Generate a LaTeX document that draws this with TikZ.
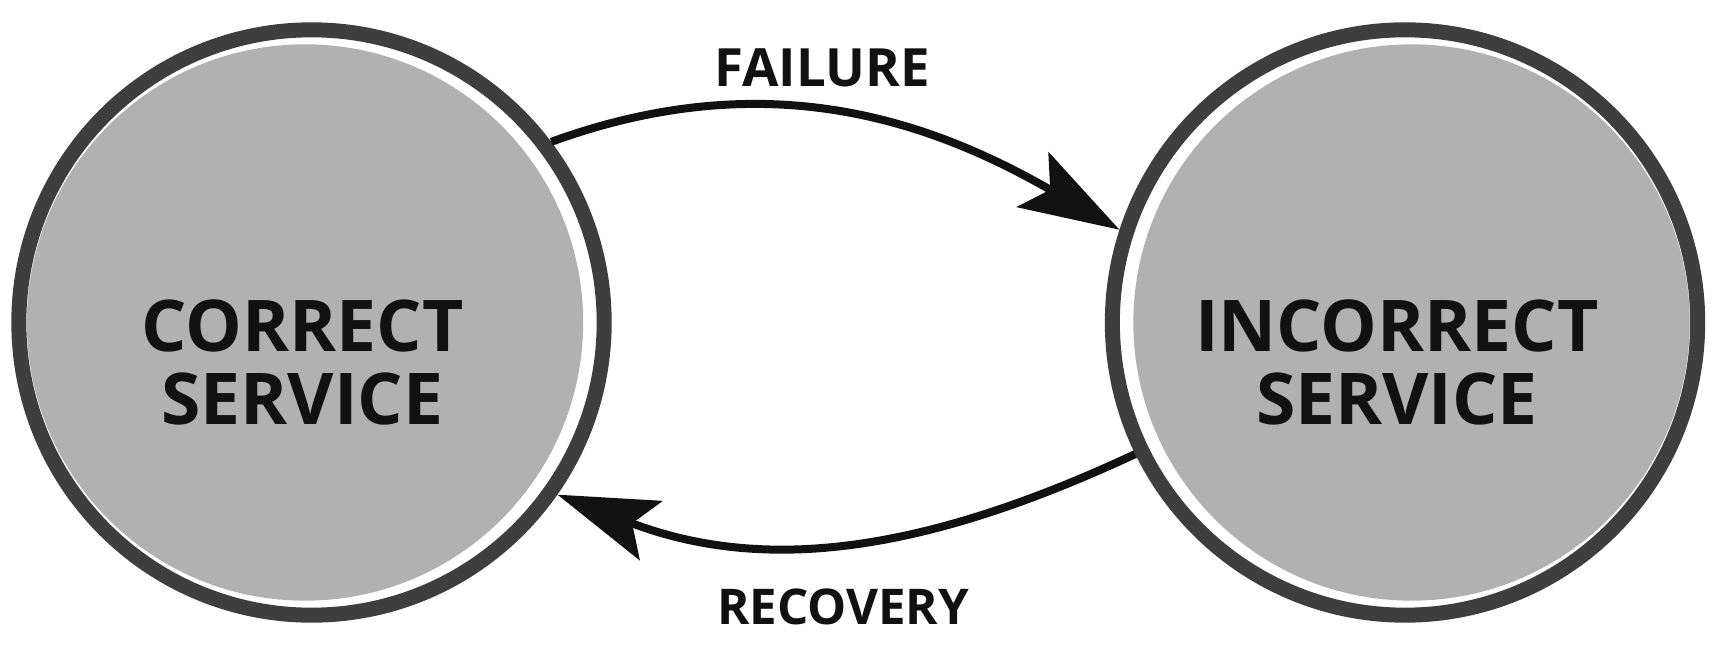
\documentclass[tikz,border=0pt]{standalone}
\usepackage{fontspec}
\setmainfont{Open Sans}
\usetikzlibrary{arrows.meta}

\definecolor{ringgray}{HTML}{3E3E3E}
\definecolor{fillgray}{HTML}{B1B1B1}
\definecolor{inkblack}{HTML}{111111}

\begin{document}
\begin{tikzpicture}[x=0.01cm, y=-0.01cm,
  state/.style={circle, draw=ringgray, line width=0.15cm, fill=white,
    minimum size=5.85cm, inner sep=0pt,
    path picture={\fill[fillgray] ([xshift=#1]path picture bounding box.center) circle (2.78cm);}},
  statetext/.style={align=center, text=inkblack,
    font=\fontsize{20.3}{21}\selectfont\bfseries},
  translabel/.style={text=inkblack, font=\fontsize{#1}{17}\selectfont\bfseries},
  trans/.style={draw=inkblack, line width=0.08cm,
    -{Stealth[length=1cm, width=0.63cm, inset=0.2cm]}}]

% Page size
\useasboundingbox (0,0) rectangle (1713,649);

% The two states
\node[state=-0.065cm] (ok) at (311.5,322.5) {};
\node[state=0.065cm] (bad) at (1405,322.5) {};

% State names, set a little below and left of the centre
\node[statetext] (oktext) at ([xshift=-0.09cm, yshift=-0.40cm]ok.center) {CORRECT\\SERVICE};
\node[statetext] (badtext) at ([xshift=-0.08cm, yshift=-0.40cm]bad.center) {INCORRECT\\SERVICE};

% Transitions
\draw[trans] (ok.37) to[out=20, in=150] (bad.162);
\draw[trans] (bad.206) to[out=205, in=-21] (ok.325);

% Labels
\node[translabel=15] (fail) at (822,68) {FAILURE};
\node[translabel=14] (recov) at (843,607) {RECOVERY};

\end{tikzpicture}
\end{document}
